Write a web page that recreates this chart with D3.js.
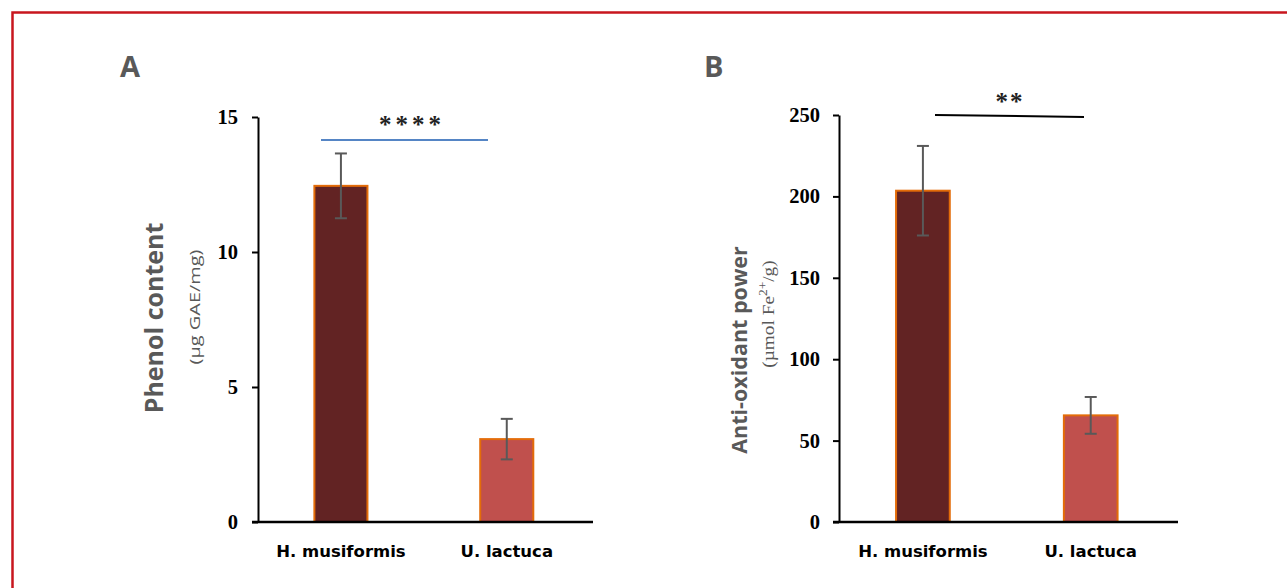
<!DOCTYPE html>
<html>
<head>
<meta charset="utf-8">
<script src="https://cdn.jsdelivr.net/npm/d3@7"></script>
<style>
  body { margin: 0; background: #fff; }
  svg { display: block; }
</style>
</head>
<body>
<div id="chart"></div>
<script>
const categories = ['H. musiformis', 'U. lactuca'];

// panel A: total phenols
const phenolMeans = [12.45, 3.07];
const phenolErrors = [1.2, 0.75];
const phenolTicks = [0, 5, 10, 15];

// panel B: FRAP
const frapMeans = [203.5, 65.5];
const frapErrors = [27.5, 11.3];
const frapTicks = [0, 50, 100, 150, 200, 250];

const barColors = ['#622323', '#C0504D'];

const width = 1287, height = 588;

const svg = d3.select('#chart')
  .append('svg')
  .attr('width', width)
  .attr('height', height)

// red frame, runs off the right/bottom edge
svg.append('rect')
  .attr('x', 12.5).attr('y', 12.5)
  .attr('width', width).attr('height', height)
  .attr('fill', 'none')
  .attr('stroke', '#C8161E')
  .attr('stroke-width', 2.5)

const panels = [
  {letter: 'A', lx: 120, axisX: 258, axisEnd: 593, top: 117, max: 15,
   means: phenolMeans, errs: phenolErrors, ticks: phenolTicks, tickDx: -20,
   title: 'Phenol content', titleSize: 25, titleX: 163, titleY: 318,
   sub: '(µg GAE/mg)', subSerif: false, subX: 200, subY: 307, subStretch: 1.33,
   stars: '****', starsX: 412, starsY: 124, starsSpacing: 4,
   sig: [[321, 140], [488, 140]], sigColor: '#5585C5'},
  {letter: 'B', lx: 704, axisX: 839, axisEnd: 1178, top: 115, max: 250,
   means: frapMeans, errs: frapErrors, ticks: frapTicks, tickDx: -19,
   title: 'Anti-oxidant power', titleSize: 21.5, titleX: 747, titleY: 350,
   sub: null, subSerif: true, subX: 774, subY: 314, subStretch: 1.17,
   stars: '**', starsX: 1010, starsY: 101, starsSpacing: 2,
   sig: [[935, 115], [1084, 117]], sigColor: '#000'}
];

const baseY = 522;

panels.forEach(p => {
  const g = svg.append('g')

  const y = d3.scaleLinear().domain([0, p.max]).range([baseY, p.top]);
  const x = d3.scaleBand().domain(categories)
    .range([p.axisX, p.axisX + 2 * (p.axisEnd - p.axisX) / 2.02])
    .paddingInner(0.68).paddingOuter(0.34);

  // panel letter
  g.append('text')
    .attr('x', p.lx).attr('y', 77)
    .attr('font-family', 'Open Sans').attr('font-weight', 'bold')
    .attr('font-size', 29).attr('fill', '#595959')
    .text(p.letter)

  // y axis
  const yAxis = g.append('g')
    .attr('transform', `translate(${p.axisX},0)`)
    .call(d3.axisLeft(y).tickValues(p.ticks).tickSize(6).tickSizeOuter(0))
  yAxis.select('.domain').attr('stroke', '#000').attr('stroke-width', 2)
  yAxis.selectAll('.tick line').attr('stroke', '#000').attr('stroke-width', 2)
  yAxis.selectAll('.tick text')
    .attr('font-family', 'Liberation Serif').attr('font-weight', 'bold')
    .attr('font-size', 20.5).attr('fill', '#000').attr('x', p.tickDx)

  // bars
  g.selectAll('rect.bar')
    .data(p.means)
    .join('rect')
    .attr('class', 'bar')
    .attr('x', (d, i) => x(categories[i]))
    .attr('y', d => y(d))
    .attr('width', x.bandwidth())
    .attr('height', d => baseY - y(d))
    .attr('fill', (d, i) => barColors[i])
    .attr('stroke', '#E36C09')
    .attr('stroke-width', 2)

  // error bars
  const eb = g.selectAll('g.err')
    .data(p.means)
    .join('g')
    .attr('class', 'err')
    .attr('stroke', '#595959').attr('stroke-width', 2)
  const cx = i => x(categories[i]) + x.bandwidth() / 2;
  eb.append('line')
    .attr('x1', (d, i) => cx(i)).attr('x2', (d, i) => cx(i))
    .attr('y1', (d, i) => y(d + p.errs[i])).attr('y2', (d, i) => y(d - p.errs[i]))
  eb.append('line')
    .attr('x1', (d, i) => cx(i) - 6).attr('x2', (d, i) => cx(i) + 6)
    .attr('y1', (d, i) => y(d + p.errs[i])).attr('y2', (d, i) => y(d + p.errs[i]))
  eb.append('line')
    .attr('x1', (d, i) => cx(i) - 6).attr('x2', (d, i) => cx(i) + 6)
    .attr('y1', (d, i) => y(d - p.errs[i])).attr('y2', (d, i) => y(d - p.errs[i]))

  // x axis line
  g.append('line')
    .attr('x1', p.axisX - 6).attr('x2', p.axisEnd)
    .attr('y1', baseY).attr('y2', baseY)
    .attr('stroke', '#000').attr('stroke-width', 2.5)

  // category labels
  g.selectAll('text.cat')
    .data(categories)
    .join('text')
    .attr('class', 'cat')
    .attr('x', d => x(d) + x.bandwidth() / 2)
    .attr('y', 557)
    .attr('text-anchor', 'middle')
    .attr('font-family', 'DejaVu Sans').attr('font-weight', 'bold')
    .attr('font-size', 16.5).attr('fill', '#000')
    .text(d => d)

  // y titles
  g.append('text')
    .attr('transform', `translate(${p.titleX},${p.titleY}) rotate(-90)`)
    .attr('text-anchor', 'middle')
    .attr('font-family', 'Open Sans').attr('font-weight', 'bold')
    .attr('font-size', p.titleSize).attr('fill', '#595959')
    .text(p.title)

  // unit line, stretched along the text like the source figure
  const sub = g.append('text')
    .attr('transform', `translate(${p.subX},${p.subY}) rotate(-90) scale(${p.subStretch},1)`)
    .attr('text-anchor', 'middle')
    .attr('fill', '#595959')
  if (p.subSerif) {
    sub.attr('font-family', 'Liberation Serif').attr('font-size', 16.5)
    sub.append('tspan').text('(µmol Fe')
    sub.append('tspan').attr('font-size', 11.5).attr('dy', -7).text('2+')
    sub.append('tspan').attr('dy', 7).text('/g)')
  } else {
    sub.attr('font-family', 'Open Sans').attr('font-size', 15).text(p.sub)
  }

  // significance
  g.append('line')
    .attr('x1', p.sig[0][0]).attr('y1', p.sig[0][1])
    .attr('x2', p.sig[1][0]).attr('y2', p.sig[1][1])
    .attr('stroke', p.sigColor).attr('stroke-width', 2)
  g.append('text')
    .attr('x', p.starsX).attr('y', p.starsY)
    .attr('text-anchor', 'middle')
    .attr('dominant-baseline', 'central')
    .attr('font-family', 'Liberation Serif').attr('font-weight', 'bold')
    .attr('font-size', 25).attr('fill', '#222')
    .attr('letter-spacing', p.starsSpacing)
    .text(p.stars)
})
</script>
</body>
</html>
